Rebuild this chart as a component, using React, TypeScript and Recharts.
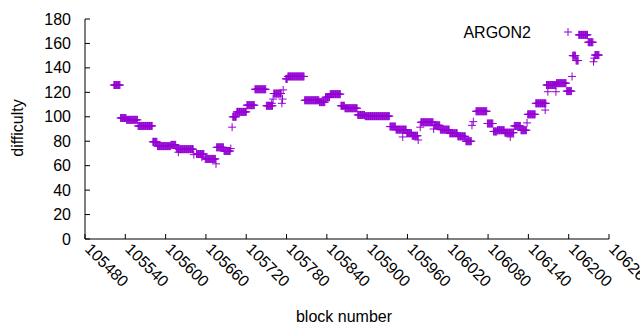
import React from 'react';
import { ScatterChart, Scatter, XAxis, YAxis, Legend, Label } from 'recharts';

// Runs of consecutive blocks sharing one difficulty value (start block, end block, value)
const runStart = [105523, 105533, 105542, 105559, 105581, 105588, 105608, 105616, 105620, 105646, 105659, 105676, 105687, 105700, 105706, 105721, 105733, 105750, 105761, 105779, 105782, 105807, 105829, 105838, 105845, 105861, 105867, 105886, 105897, 105934, 105943, 105959, 105967, 105980, 106000, 106009, 106023, 106035, 106047, 106062, 106079, 106088, 106094, 106105, 106119, 106129, 106139, 106151, 106167, 106182, 106197, 106206, 106211, 106215, 106229, 106239];
const runEnd = [105532, 105541, 105558, 105580, 105587, 105607, 105615, 105619, 105641, 105657, 105674, 105686, 105696, 105705, 105720, 105732, 105749, 105759, 105772, 105781, 105806, 105828, 105837, 105844, 105860, 105866, 105885, 105896, 105933, 105942, 105958, 105966, 105975, 105998, 106008, 106022, 106034, 106046, 106055, 106078, 106087, 106093, 106104, 106118, 106128, 106137, 106150, 106166, 106181, 106196, 106204, 106210, 106214, 106228, 106236, 106245];
const runValue = [126, 99, 97.5, 92.5, 79.5, 76, 77, 74, 73.5, 69.5, 65.5, 75, 72, 100, 104, 109.5, 122.5, 109, 119, 131, 133, 113.5, 112, 116, 118.5, 109, 107, 101.5, 100.5, 92, 89.5, 86.5, 84.5, 95.5, 93, 89.5, 86.5, 84, 80, 104.5, 94.5, 88, 89, 87, 92.5, 89, 102, 111, 126, 127.5, 121, 150, 146, 167, 161, 150.5];

// Single blocks off the level of their neighbours
const outlierBlock = [105619, 105642, 105654, 105675, 105697, 105699, 105758, 105760, 105773, 105774, 105775, 105953, 105976, 105979, 105999, 106056, 106058, 106113, 106138, 106165, 106169, 106181, 106205, 106237, 106238];
const outlierValue = [71, 69, 67, 61.5, 74, 91.5, 111, 114.5, 111, 114.5, 122, 83.5, 81, 91.5, 90, 93, 96, 83.5, 95, 105.5, 120.5, 120.5, 133, 145, 148];

const xTicks = [105480, 105540, 105600, 105660, 105720, 105780, 105840, 105900, 105960, 106020, 106080, 106140, 106200, 106260];
const yTicks = [0, 20, 40, 60, 80, 100, 120, 140, 160, 180];

const seriesName = 'ARGON2';
const COLOR = '#9400d3';
const FONT = 'Liberation Sans, Arial, sans-serif';
const FS = 16;

const data: { block: number; difficulty: number }[] = [];
runStart.forEach((s, i) => {
  for (let b = s; b <= runEnd[i]; b++) data.push({ block: b, difficulty: runValue[i] });
});
outlierBlock.forEach((b, i) => data.push({ block: b, difficulty: outlierValue[i] }));

const Cross = (props: any) => {
  const { cx, cy } = props;
  if (cx == null || cy == null) return null;
  return <path d={`M${cx - 4},${cy}H${cx + 4}M${cx},${cy - 4}V${cy + 4}`} stroke={COLOR} strokeWidth={1} fill="none" />;
};

const BottomTick = (props: any) => {
  const { x, y, payload } = props;
  const tx = x - 1;
  const ty = y + 11;
  return (
    <g>
      <line x1={x} x2={x} y1={y} y2={y - 5} stroke="#000" />
      <text x={tx} y={ty} transform={`rotate(45 ${tx} ${ty})`} textAnchor="start" fontSize={FS} fontFamily={FONT} fill="#000">
        {payload.value}
      </text>
    </g>
  );
};

const TopTick = (props: any) => {
  const { x, y } = props;
  return <line x1={x} x2={x} y1={y} y2={y + 5} stroke="#000" />;
};

const LeftTick = (props: any) => {
  const { x, y, payload } = props;
  return (
    <g>
      <line x1={x} x2={x + 5} y1={y} y2={y} stroke="#000" />
      <text x={x - 14} y={y} dy="0.35em" textAnchor="end" fontSize={FS} fontFamily={FONT} fill="#000">
        {payload.value}
      </text>
    </g>
  );
};

const RightTick = (props: any) => {
  const { x, y } = props;
  return <line x1={x} x2={x - 5} y1={y} y2={y} stroke="#000" />;
};

const LegendContent = (props: any) => {
  const items = props.payload || [];
  return (
    <svg width={240} height={24} style={{ display: 'block' }}>
      {items.map((it: any, i: number) => (
        <g key={i}>
          <text x={131} y={12} dy="0.35em" textAnchor="end" fontSize={FS} fontFamily={FONT} fill="#000">
            {it.value}
          </text>
          <path d={`M164,12H172M168,8V16`} stroke={COLOR} strokeWidth={1} fill="none" />
        </g>
      ))}
    </svg>
  );
};

export default function App() {
  return (
    <div style={{ position: 'absolute', left: 0, top: 0, width: 640, height: 330, background: '#fff' }}>
      <ScatterChart width={640} height={330} margin={{ top: 19, right: 31, bottom: 0, left: 0 }}>
        <XAxis
          xAxisId={0}
          dataKey="block"
          type="number"
          domain={[105480, 106260]}
          ticks={xTicks}
          interval={0}
          height={91}
          tickSize={0}
          tickMargin={0}
          tick={<BottomTick />}
          axisLine={{ stroke: '#000' }}
          tickLine={false}
          allowDataOverflow
        >
          <Label
            content={() => (
              <text x={344} y={316} dy="0.35em" textAnchor="middle" fontSize={FS} fontFamily={FONT} fill="#000">
                block number
              </text>
            )}
          />
        </XAxis>
        <XAxis
          xAxisId="top"
          orientation="top"
          type="number"
          domain={[105480, 106260]}
          ticks={xTicks}
          interval={0}
          height={0}
          tickSize={0}
          tickMargin={0}
          tick={<TopTick />}
          axisLine={{ stroke: '#000' }}
          tickLine={false}
        />
        <YAxis
          yAxisId={0}
          dataKey="difficulty"
          type="number"
          domain={[0, 180]}
          ticks={yTicks}
          interval={0}
          width={85}
          tickSize={0}
          tickMargin={0}
          tick={<LeftTick />}
          axisLine={{ stroke: '#000' }}
          tickLine={false}
          allowDataOverflow
        >
          <Label
            content={() => (
              <text x={17} y={128} dy="0.35em" transform="rotate(-90 17 128)" textAnchor="middle" fontSize={FS} fontFamily={FONT} fill="#000">
                difficulty
              </text>
            )}
          />
        </YAxis>
        <YAxis
          yAxisId="right"
          orientation="right"
          type="number"
          domain={[0, 180]}
          ticks={yTicks}
          interval={0}
          width={0}
          tickSize={0}
          tickMargin={0}
          tick={<RightTick />}
          axisLine={{ stroke: '#000' }}
          tickLine={false}
        />
        <Legend
          layout="horizontal"
          verticalAlign="middle"
          align="center"
          content={<LegendContent />}
          wrapperStyle={{ position: 'absolute', left: 400, top: 20, width: 240, height: 24 }}
        />
        <Scatter
          name={seriesName}
          data={data}
          xAxisId={0}
          yAxisId={0}
          fill={COLOR}
          shape={<Cross />}
          isAnimationActive={false}
        />
      </ScatterChart>
    </div>
  );
}
